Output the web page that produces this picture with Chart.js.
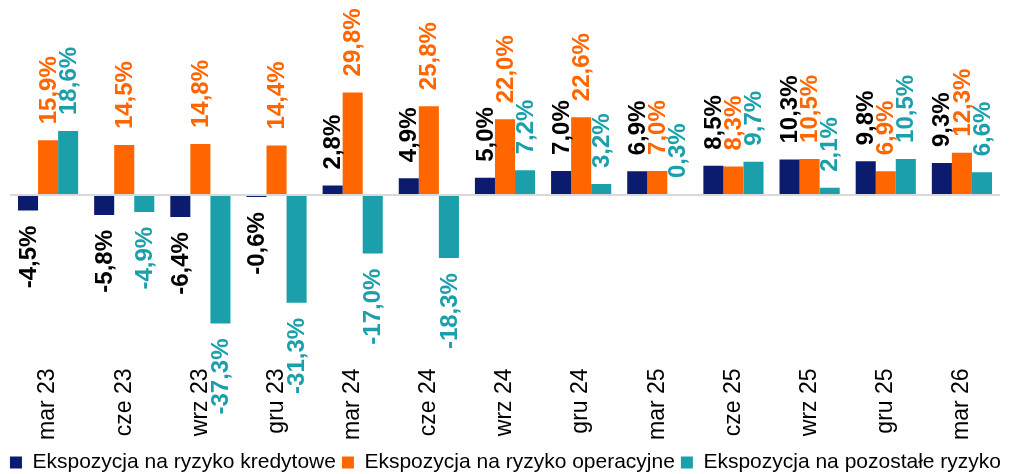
<!DOCTYPE html>
<html>
<head>
<meta charset="utf-8">
<script src="https://cdn.jsdelivr.net/npm/chart.js@4.4.1/dist/chart.umd.min.js"></script>
<style>
  html, body { margin: 0; padding: 0; background: #fff; }
  #wrap { width: 1011px; height: 474px; position: relative; }
</style>
</head>
<body>
<div id="wrap"><canvas id="c"></canvas></div>
<script>
const categories = ['mar 23', 'cze 23', 'wrz 23', 'gru 23', 'mar 24', 'cze 24', 'wrz 24', 'gru 24', 'mar 25', 'cze 25', 'wrz 25', 'gru 25', 'mar 26'];
const seriesNames = ['Ekspozycja na ryzyko kredytowe', 'Ekspozycja na ryzyko operacyjne', 'Ekspozycja na pozostałe ryzyko'];
const kredytowe = [-4.5, -5.8, -6.4, -0.6, 2.8, 4.9, 5.0, 7.0, 6.9, 8.5, 10.3, 9.8, 9.3];
const operacyjne = [15.9, 14.5, 14.8, 14.4, 29.8, 25.8, 22.0, 22.6, 7.0, 8.3, 10.5, 6.9, 12.3];
const pozostale = [18.6, -4.9, -37.3, -31.3, -17.0, -18.3, 7.2, 3.2, 0.3, 9.7, 2.1, 10.5, 6.6];

const FONT = "'Liberation Sans', Arial, Helvetica, sans-serif";
const barColors = ['#0B1C6E', '#FF6600', '#1BA0AB'];
const labelColors = ['#000000', '#FF6600', '#1BA0AB'];

const fmt = v => v.toFixed(1).replace('.', ',') + '%';

const rotatedLabels = {
  id: 'rotatedLabels',
  afterDatasetsDraw(chart) {
    const ctx = chart.ctx;
    chart.data.datasets.forEach((ds, di) => {
      const meta = chart.getDatasetMeta(di);
      meta.data.forEach((bar, i) => {
        const v = ds.data[i];
        ctx.save();
        ctx.font = 'bold 24px ' + FONT;
        ctx.fillStyle = labelColors[di];
        ctx.textBaseline = 'middle';
        ctx.translate(bar.x, bar.y);
        ctx.rotate(-Math.PI / 2);
        if (v >= 0) {
          ctx.textAlign = 'left';
          ctx.fillText(fmt(v), 16, 1);
        } else {
          ctx.textAlign = 'right';
          ctx.fillText(fmt(v), -15, 1);
        }
        ctx.restore();
      });
    });
  }
};

Chart.defaults.color = '#000';
Chart.defaults.font.family = FONT;

new Chart(document.getElementById('c'), {
  type: 'bar',
  data: {
    labels: categories,
    datasets: [
      { label: seriesNames[0], data: kredytowe, backgroundColor: barColors[0] },
      { label: seriesNames[1], data: operacyjne, backgroundColor: barColors[1] },
      { label: seriesNames[2], data: pozostale, backgroundColor: barColors[2] }
    ]
  },
  options: {
    responsive: true,
    maintainAspectRatio: false,
    animation: false,
    datasets: { bar: { categoryPercentage: 0.79, barPercentage: 1.0, borderWidth: 0 } },
    layout: { padding: { left: 0, right: 0, top: 7, bottom: -9 } },
    plugins: {
      tooltip: { enabled: false },
      legend: {
        position: 'bottom',
        labels: {
          boxWidth: 12,
          boxHeight: 12,
          padding: 6,
          font: { size: 21, family: FONT },
          color: '#000'
        }
      }
    },
    scales: {
      x: {
        grid: { display: false, drawTicks: false },
        border: { display: false },
        ticks: {
          minRotation: 90,
          maxRotation: 90,
          padding: 6,
          font: { size: 23, family: FONT },
          color: '#000'
        }
      },
      y: {
        min: -48.6,
        max: 54.6,
        ticks: { display: false },
        border: { display: false },
        afterFit: s => { s.width = 10; },
        grid: {
          drawTicks: false,
          lineWidth: 2,
          color: c => (c.tick && c.tick.value === 0) ? '#D9D9D9' : 'rgba(0,0,0,0)'
        }
      },
      yRight: {
        position: 'right',
        ticks: { display: false },
        border: { display: false },
        grid: { display: false, drawTicks: false },
        afterFit: s => { s.width = 11; }
      }
    }
  },
  plugins: [rotatedLabels]
});
</script>
</body>
</html>
